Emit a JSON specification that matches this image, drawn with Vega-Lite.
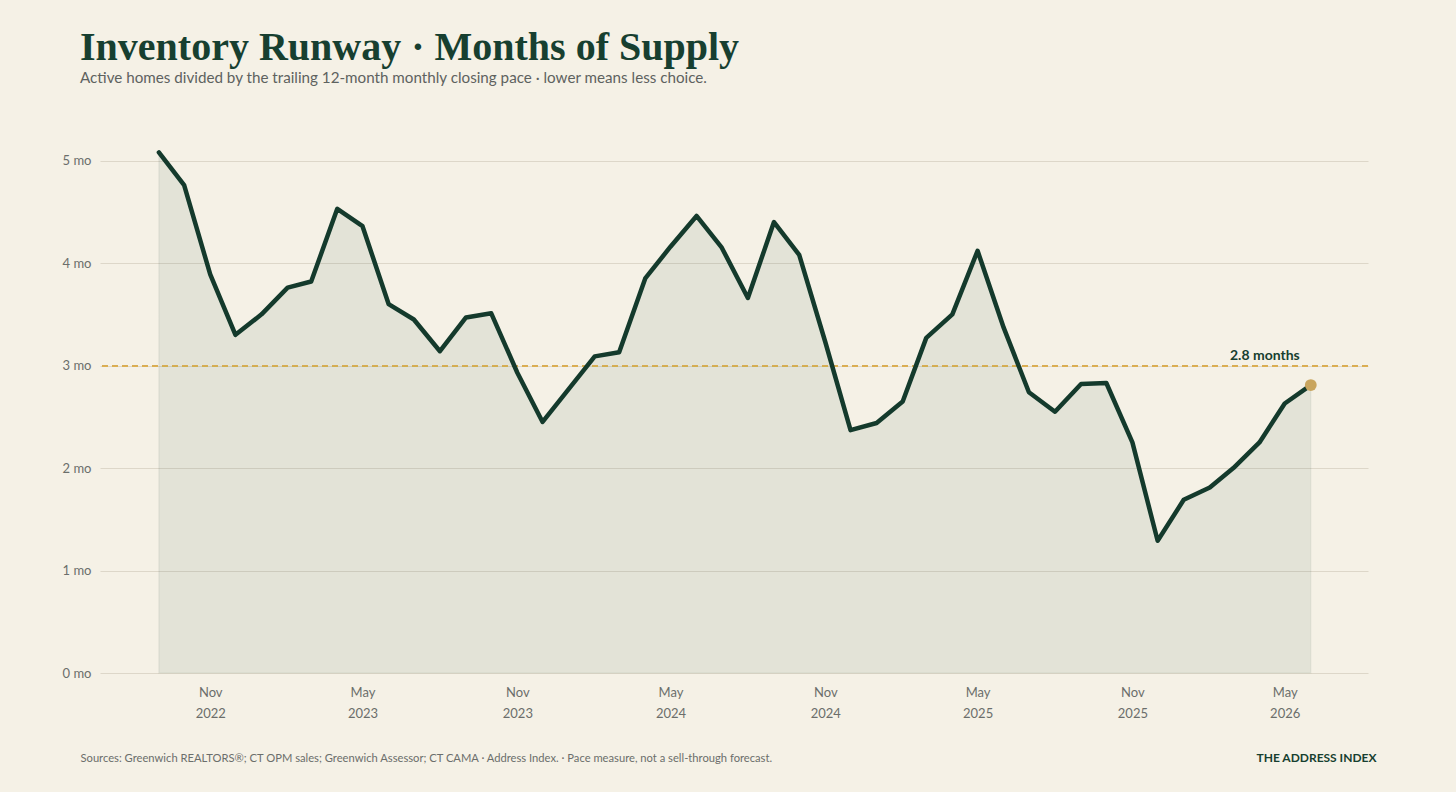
{
  "$schema": "https://vega.github.io/schema/vega-lite/v6.json",
  "width": 1268,
  "height": 538,
  "autosize": {"type": "none"},
  "padding": {"left": 100, "top": 135, "right": 88, "bottom": 119},
  "background": "#F5F1E6",
  "config": {"view": {"stroke": null}, "font": "Lato"},
  "title": {
    "text": "Inventory Runway · Months of Supply",
    "subtitle": "Active homes divided by the trailing 12-month monthly closing pace · lower means less choice.",
    "anchor": "start",
    "frame": "group",
    "dx": -20,
    "offset": 49,
    "font": "Liberation Serif",
    "fontSize": 40,
    "fontWeight": "bold",
    "color": "#173F30",
    "subtitleFont": "Lato",
    "subtitleFontSize": 15.2,
    "subtitleColor": "#5E625F",
    "subtitlePadding": 3
  },
  "data": {
    "format": {"parse": {"month": "date"}},
    "values": [
      {"month": "2022-09-01", "v": 5.08},
      {"month": "2022-10-01", "v": 4.76},
      {"month": "2022-11-01", "v": 3.89},
      {"month": "2022-12-01", "v": 3.30},
      {"month": "2023-01-01", "v": 3.50},
      {"month": "2023-02-01", "v": 3.76},
      {"month": "2023-03-01", "v": 3.82},
      {"month": "2023-04-01", "v": 4.53},
      {"month": "2023-05-01", "v": 4.36},
      {"month": "2023-06-01", "v": 3.60},
      {"month": "2023-07-01", "v": 3.45},
      {"month": "2023-08-01", "v": 3.14},
      {"month": "2023-09-01", "v": 3.47},
      {"month": "2023-10-01", "v": 3.51},
      {"month": "2023-11-01", "v": 2.93},
      {"month": "2023-12-01", "v": 2.45},
      {"month": "2024-01-01", "v": 2.77},
      {"month": "2024-02-01", "v": 3.09},
      {"month": "2024-03-01", "v": 3.13},
      {"month": "2024-04-01", "v": 3.85},
      {"month": "2024-05-01", "v": 4.16},
      {"month": "2024-06-01", "v": 4.46},
      {"month": "2024-07-01", "v": 4.15},
      {"month": "2024-08-01", "v": 3.66},
      {"month": "2024-09-01", "v": 4.40},
      {"month": "2024-10-01", "v": 4.08},
      {"month": "2024-11-01", "v": 3.23},
      {"month": "2024-12-01", "v": 2.37},
      {"month": "2025-01-01", "v": 2.44},
      {"month": "2025-02-01", "v": 2.65},
      {"month": "2025-03-01", "v": 3.27},
      {"month": "2025-04-01", "v": 3.50},
      {"month": "2025-05-01", "v": 4.12},
      {"month": "2025-06-01", "v": 3.37},
      {"month": "2025-07-01", "v": 2.74},
      {"month": "2025-08-01", "v": 2.55},
      {"month": "2025-09-01", "v": 2.82},
      {"month": "2025-10-01", "v": 2.83},
      {"month": "2025-11-01", "v": 2.25},
      {"month": "2025-12-01", "v": 1.29},
      {"month": "2026-01-01", "v": 1.69},
      {"month": "2026-02-01", "v": 1.81},
      {"month": "2026-03-01", "v": 2.00},
      {"month": "2026-04-01", "v": 2.25},
      {"month": "2026-05-01", "v": 2.63},
      {"month": "2026-06-01", "v": 2.81}
    ]
  },
  "layer": [
    {
      "mark": {"type": "area", "color": "#143A2C", "fillOpacity": 0.075, "stroke": "#143A2C", "strokeOpacity": 0.05, "strokeWidth": 1.5},
      "encoding": {
        "x": {
          "field": "month",
          "type": "temporal",
          "scale": {
            "type": "utc",
            "domain": [
              {"year": 2022, "month": 6, "date": 23, "utc": true},
              {"year": 2026, "month": 8, "date": 8, "utc": true}
            ]
          },
          "axis": {
            "values": [
              {"year": 2022, "month": 11, "date": 1, "utc": true},
              {"year": 2023, "month": 5, "date": 1, "utc": true},
              {"year": 2023, "month": 11, "date": 1, "utc": true},
              {"year": 2024, "month": 5, "date": 1, "utc": true},
              {"year": 2024, "month": 11, "date": 1, "utc": true},
              {"year": 2025, "month": 5, "date": 1, "utc": true},
              {"year": 2025, "month": 11, "date": 1, "utc": true},
              {"year": 2026, "month": 5, "date": 1, "utc": true}
            ],
            "labelExpr": "[utcFormat(datum.value, '%b'), utcFormat(datum.value, '%Y')]",
            "labelLineHeight": 21,
            "labelFontSize": 13,
            "labelColor": "#6B6E6B",
            "labelPadding": 13,
            "grid": false,
            "ticks": false,
            "domain": false,
            "title": "Sources: Greenwich REALTORS®; CT OPM sales; Greenwich Assessor; CT CAMA · Address Index. · Pace measure, not a sell-through forecast.",
            "titleFont": "Lato",
            "titleFontSize": 11.2,
            "titleFontWeight": "normal",
            "titleColor": "#6B6E6B",
            "titleAlign": "left",
            "titleBaseline": "alphabetic",
            "titleX": -20,
            "titleY": 88
          }
        },
        "y": {
          "field": "v",
          "type": "quantitative",
          "scale": {"domain": [0, 5.25], "nice": false},
          "axis": {
            "values": [0, 1, 2, 3, 4, 5],
            "labelExpr": "datum.value + ' mo'",
            "domain": false,
            "ticks": false,
            "gridColor": "#DDD7C9",
            "gridWidth": 1,
            "labelColor": "#6B6E6B",
            "labelFontSize": 13,
            "labelPadding": 9,
            "title": "THE ADDRESS INDEX",
            "titleAngle": 0,
            "titleAlign": "right",
            "titleBaseline": "alphabetic",
            "titleX": 1276,
            "titleY": 626,
            "titleFont": "Lato",
            "titleFontSize": 12,
            "titleFontWeight": "bold",
            "titleColor": "#173F30"
          }
        }
      }
    },
    {
      "mark": {"type": "rule", "color": "#D8AC55", "strokeDash": [6, 4], "strokeWidth": 1},
      "encoding": {"y": {"datum": 3}}
    },
    {
      "mark": {"type": "line", "color": "#143A2C", "strokeWidth": 4.5, "strokeJoin": "round", "strokeCap": "round"},
      "encoding": {
        "x": {"field": "month", "type": "temporal"},
        "y": {"field": "v", "type": "quantitative"}
      }
    },
    {
      "transform": [{"filter": "utcFormat(datum.month, '%Y-%m') == '2026-06'"}],
      "mark": {"type": "point", "filled": true, "color": "#C9A55E", "size": 140, "opacity": 1},
      "encoding": {
        "x": {"field": "month", "type": "temporal"},
        "y": {"field": "v", "type": "quantitative"}
      }
    },
    {
      "transform": [
        {"filter": "utcFormat(datum.month, '%Y-%m') == '2026-06'"},
        {"calculate": "format(datum.v, '.1f') + ' months'", "as": "label"}
      ],
      "mark": {"type": "text", "align": "right", "baseline": "alphabetic", "dx": -11, "dy": -25, "fontSize": 14, "fontWeight": "bold", "color": "#173F30", "font": "Lato"},
      "encoding": {
        "x": {"field": "month", "type": "temporal"},
        "y": {"field": "v", "type": "quantitative"},
        "text": {"field": "label"}
      }
    }
  ]
}
